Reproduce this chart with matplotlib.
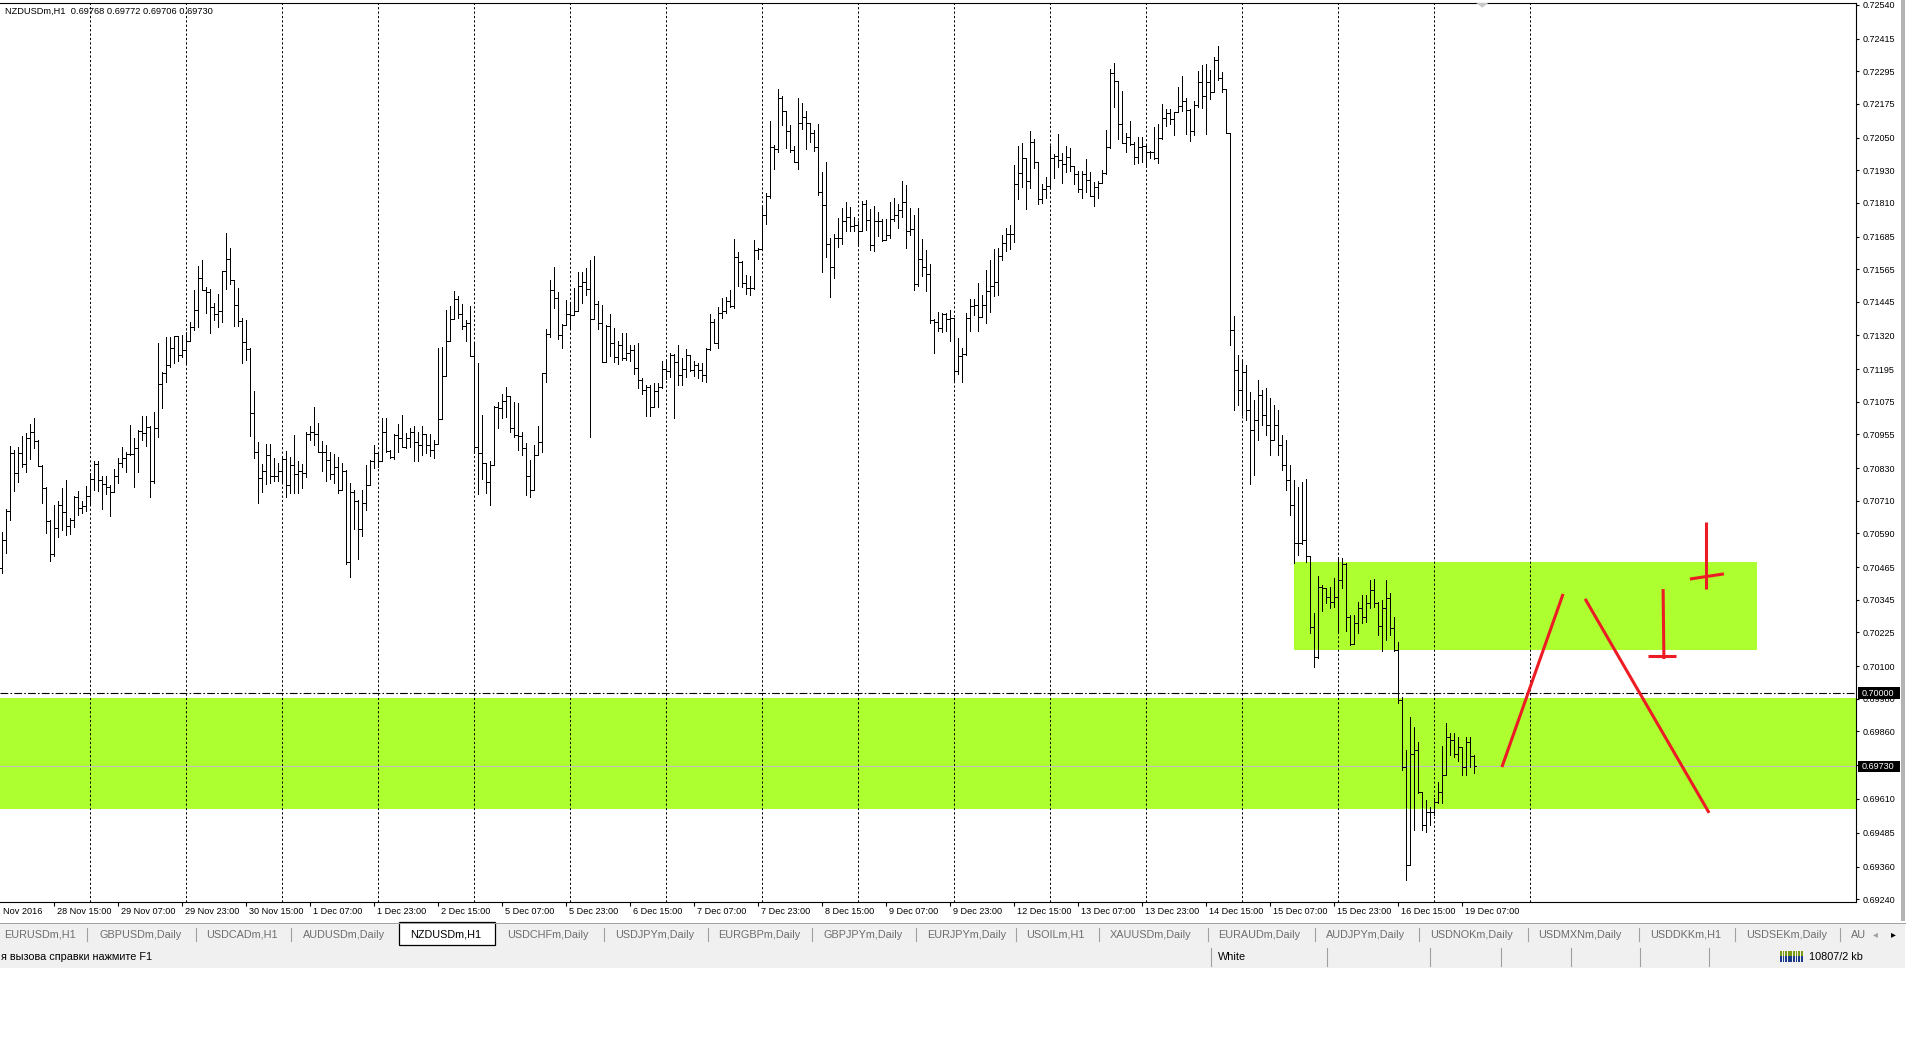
import matplotlib
matplotlib.use("Agg")
import matplotlib.pyplot as plt
import matplotlib.transforms as mtransforms
from matplotlib.patches import Rectangle, Polygon
import numpy as np

plt.rcParams['font.family'] = ['Liberation Sans', 'DejaVu Sans']

# NZDUSDm, H1 - bar 0 = 28 Nov 2016 02:00, prices in points (1e-5)
highs = [
    70596, 70678, 70912, 70899, 70909, 70949, 70959, 70993, 71015, 70934,
    70842, 70762, 70639, 70694, 70709, 70758, 70786, 70645, 70727, 70747,
    70709, 70764, 70811, 70858, 70858, 70801, 70801, 70768, 70828, 70869,
    70909, 70891, 70989, 70942, 70971, 71022, 71022, 70987, 71037, 71293,
    71186, 71315, 71315, 71318, 71318, 71321, 71334, 71371, 71488, 71577,
    71598, 71500, 71490, 71438, 71473, 71559, 71697, 71641, 71525, 71494,
    71383, 71377, 71272, 71115, 70926, 70845, 70918, 70920, 70867, 70848,
    70873, 70894, 70871, 70953, 70855, 70846, 70962, 70987, 71057, 70996,
    70931, 70916, 70889, 70882, 70871, 70851, 70824, 70774, 70750, 70713,
    70750, 70842, 70861, 70914, 70891, 71017, 71014, 70898, 70955, 70992,
    71027, 70959, 70978, 70984, 70963, 70987, 70957, 70955, 70934, 71273,
    71277, 71414, 71430, 71484, 71464, 71435, 71377, 71427, 71291, 71220,
    71027, 70851, 70855, 71060, 71076, 71103, 71131, 71097, 71076, 71070,
    70965, 70922, 70861, 70916, 70986, 71183, 71343, 71525, 71573, 71482,
    71361, 71451, 71445, 71494, 71553, 71556, 71568, 71599, 71613, 71447,
    71433, 71359, 71399, 71346, 71300, 71328, 71328, 71285, 71285, 71291,
    71162, 71137, 71137, 71143, 71146, 71226, 71226, 71254, 71250, 71285,
    71238, 71269, 71246, 71226, 71217, 71217, 71275, 71398, 71380, 71426,
    71457, 71463, 71488, 71676, 71627, 71593, 71543, 71540, 71673, 71642,
    71798, 71845, 72112, 72024, 72230, 72204, 72149, 72097, 72020, 72196,
    72177, 72149, 72104, 72079, 72101, 71925, 71960, 71679, 71694, 71753,
    71790, 71814, 71793, 71759, 71741, 71818, 71821, 71787, 71798, 71777,
    71750, 71750, 71811, 71829, 71806, 71891, 71876, 71792, 71765, 71792,
    71675, 71634, 71584, 71380, 71406, 71402, 71402, 71415, 71310, 71310,
    71275, 71402, 71455, 71455, 71513, 71470, 71562, 71599, 71640, 71642,
    71690, 71718, 71728, 71949, 72019, 72029, 71974, 72075, 72045, 71961,
    71878, 71906, 72019, 71990, 72064, 71995, 72019, 72011, 71945, 71927,
    71927, 71971, 71924, 71888, 71890, 71931, 72078, 72303, 72324, 72259,
    72222, 72066, 72112, 72035, 72051, 72051, 72025, 72001, 72088, 72100,
    72173, 72156, 72156, 72144, 72238, 72278, 72195, 72156, 72185, 72296,
    72318, 72321, 72300, 72347, 72388, 72294, 72230, 72051, 71392, 71248,
    71230, 71211, 71112, 71082, 71156, 71119, 71126, 71090, 71064, 71045,
    70953, 70934, 70842, 70787, 70760, 70780, 70790, 70506, 70294, 70432,
    70399, 70387, 70393, 70424, 70497, 70497, 70479, 70288, 70288, 70337,
    70362, 70362, 70417, 70420, 70337, 70344, 70417, 70368, 70280, 70190,
    69984, 69790, 69913, 69876, 69821, 69636, 69605, 69581, 69611, 69673,
    69805, 69891, 69854, 69854, 69839, 69802, 69839, 69839, 69772,
]
lows = [
    70442, 70518, 70639, 70747, 70780, 70835, 70817, 70864, 70904, 70842,
    70703, 70592, 70488, 70506, 70577, 70602, 70583, 70586, 70614, 70658,
    70663, 70673, 70694, 70749, 70747, 70679, 70733, 70655, 70743, 70774,
    70835, 70815, 70879, 70762, 70817, 70934, 70912, 70725, 70774, 70946,
    71053, 71149, 71205, 71217, 71227, 71241, 71213, 71303, 71340, 71352,
    71488, 71404, 71330, 71377, 71350, 71371, 71490, 71509, 71355, 71355,
    71219, 71229, 70950, 70867, 70701, 70744, 70771, 70774, 70784, 70784,
    70774, 70725, 70740, 70740, 70740, 70758, 70799, 70934, 70914, 70891,
    70820, 70783, 70789, 70774, 70740, 70750, 70477, 70427, 70605, 70494,
    70581, 70674, 70768, 70832, 70836, 70857, 70891, 70867, 70864, 70891,
    70910, 70904, 70910, 70855, 70857, 70877, 70888, 70875, 70869, 70920,
    71011, 71172, 71300, 71380, 71386, 71343, 71301, 71246, 70885, 70734,
    70789, 70740, 70695, 70842, 70980, 71017, 71020, 70963, 70947, 70897,
    70880, 70731, 70724, 70787, 70879, 70890, 71150, 71316, 71423, 71307,
    71275, 71359, 71346, 71396, 71410, 71439, 71470, 70944, 71383, 71343,
    71221, 71221, 71246, 71221, 71215, 71230, 71230, 71226, 71177, 71125,
    71103, 71024, 71024, 71057, 71057, 71125, 71159, 71168, 71014, 71137,
    71137, 71168, 71189, 71172, 71162, 71152, 71150, 71266, 71291, 71273,
    71383, 71402, 71426, 71420, 71504, 71500, 71472, 71470, 71492, 71602,
    71731, 71731, 71827, 71934, 71997, 72095, 72011, 71997, 71960, 71934,
    72081, 72009, 72033, 71999, 71839, 71556, 71611, 71461, 71531, 71645,
    71657, 71704, 71704, 71704, 71657, 71706, 71710, 71636, 71630, 71688,
    71670, 71675, 71679, 71741, 71716, 71759, 71642, 71689, 71486, 71504,
    71538, 71485, 71365, 71255, 71335, 71332, 71335, 71298, 71147, 71177,
    71150, 71248, 71337, 71396, 71338, 71387, 71365, 71408, 71466, 71470,
    71600, 71630, 71640, 71666, 71824, 71869, 71785, 71865, 71937, 71804,
    71808, 71826, 71869, 71902, 71943, 71881, 71924, 71927, 71878, 71851,
    71829, 71851, 71835, 71799, 71826, 71881, 71915, 72013, 72164, 72045,
    72029, 71998, 72023, 71952, 71955, 71959, 71943, 71974, 71971, 71955,
    72044, 72094, 72099, 72060, 72144, 72148, 72064, 72039, 72060, 72164,
    72161, 72062, 72192, 72220, 72263, 72220, 72068, 71285, 71045, 71064,
    71027, 71008, 70772, 70805, 70934, 70990, 70953, 70879, 70934, 70879,
    70824, 70750, 70658, 70481, 70510, 70550, 70485, 70223, 70097, 70128,
    70303, 70331, 70313, 70319, 70227, 70387, 70230, 70177, 70184, 70220,
    70257, 70264, 70313, 70319, 70214, 70156, 70196, 70214, 70156, 69962,
    69716, 69310, 69365, 69494, 69630, 69494, 69488, 69513, 69550, 69593,
    69593, 69698, 69771, 69765, 69750, 69698, 69698, 69728, 69706,
]
closes = [
    70565, 70672, 70888, 70811, 70885, 70844, 70940, 70963, 70930, 70840,
    70758, 70635, 70513, 70608, 70694, 70667, 70616, 70639, 70722, 70685,
    70691, 70727, 70792, 70844, 70786, 70770, 70762, 70741, 70801, 70848,
    70866, 70881, 70882, 70903, 70968, 70959, 70983, 70781, 70977, 71141,
    71180, 71212, 71273, 71318, 71248, 71266, 71301, 71350, 71414, 71531,
    71488, 71479, 71424, 71399, 71411, 71559, 71601, 71525, 71431, 71373,
    71294, 71271, 71035, 70889, 70793, 70819, 70878, 70803, 70803, 70818,
    70863, 70767, 70842, 70808, 70818, 70813, 70957, 70965, 70957, 70890,
    70891, 70859, 70809, 70834, 70750, 70821, 70485, 70744, 70709, 70606,
    70701, 70767, 70857, 70888, 70858, 70963, 70894, 70873, 70953, 70943,
    70910, 70943, 70963, 70926, 70914, 70955, 70914, 70898, 70920, 71011,
    71172, 71300, 71380, 71454, 71398, 71355, 71365, 71246, 70910, 70888,
    70848, 70778, 70842, 71057, 71051, 71078, 71097, 70977, 70953, 70949,
    70905, 70800, 70750, 70880, 70928, 71180, 71324, 71488, 71460, 71322,
    71359, 71398, 71396, 71410, 71504, 71519, 71490, 71381, 71435, 71367,
    71223, 71355, 71291, 71242, 71285, 71236, 71254, 71267, 71199, 71156,
    71119, 71131, 71055, 71115, 71131, 71195, 71189, 71248, 71221, 71174,
    71195, 71248, 71193, 71211, 71193, 71174, 71269, 71371, 71291, 71402,
    71410, 71447, 71430, 71609, 71590, 71515, 71494, 71494, 71636, 71640,
    71765, 71833, 72017, 72009, 72196, 72149, 72075, 72005, 71962, 72104,
    72125, 72104, 72067, 72017, 71851, 71802, 71657, 71574, 71679, 71679,
    71741, 71759, 71725, 71728, 71706, 71805, 71747, 71654, 71744, 71743,
    71673, 71691, 71750, 71763, 71784, 71814, 71706, 71712, 71510, 71602,
    71574, 71547, 71378, 71371, 71347, 71399, 71381, 71384, 71189, 71245,
    71251, 71384, 71429, 71433, 71387, 71433, 71485, 71503, 71517, 71614,
    71660, 71693, 71693, 71878, 71921, 71974, 71890, 72033, 71959, 71824,
    71859, 71872, 71976, 71982, 71968, 71953, 71977, 71945, 71916, 71859,
    71916, 71892, 71835, 71869, 71881, 71918, 72017, 72287, 72259, 72099,
    72029, 72054, 72027, 71980, 72014, 72019, 71996, 71996, 71976, 72048,
    72121, 72142, 72118, 72144, 72167, 72185, 72152, 72075, 72171, 72254,
    72204, 72254, 72220, 72337, 72269, 72228, 72068, 71340, 71193, 71119,
    71185, 71045, 70971, 71008, 71101, 71027, 70990, 70934, 70990, 70916,
    70842, 70787, 70695, 70553, 70553, 70565, 70506, 70243, 70132, 70393,
    70387, 70356, 70337, 70353, 70417, 70475, 70280, 70180, 70260, 70313,
    70280, 70331, 70380, 70331, 70248, 70313, 70350, 70239, 70159, 69974,
    69728, 69365, 69777, 69790, 69636, 69513, 69562, 69562, 69599, 69636,
    69698, 69839, 69827, 69777, 69800, 69728, 69821, 69768, 69730,
]
first_open = 70460

header = "NZDUSDm,H1  0.69768 0.69772 0.69706 0.69730"
price_ticks = [0.72540, 0.72415, 0.72295, 0.72175, 0.72050, 0.71930, 0.71810,
               0.71685, 0.71565, 0.71445, 0.71320, 0.71195, 0.71075, 0.70955,
               0.70830, 0.70710, 0.70590, 0.70465, 0.70345, 0.70225, 0.70100,
               0.69980, 0.69860, 0.69735, 0.69610, 0.69485, 0.69360, 0.69240]
time_labels = ["28 Nov 15:00", "29 Nov 07:00", "29 Nov 23:00", "30 Nov 15:00",
               "1 Dec 07:00", "1 Dec 23:00", "2 Dec 15:00", "5 Dec 07:00",
               "5 Dec 23:00", "6 Dec 15:00", "7 Dec 07:00", "7 Dec 23:00",
               "8 Dec 15:00", "9 Dec 07:00", "9 Dec 23:00", "12 Dec 15:00",
               "13 Dec 07:00", "13 Dec 23:00", "14 Dec 15:00", "15 Dec 07:00",
               "15 Dec 23:00", "16 Dec 15:00", "19 Dec 07:00"]
time_label_bars = list(range(13, 369, 16))
grid_bars = list(range(22, 383, 24))

level = 0.70000
bid = 0.69730
zone_low = (0.69572, 0.69982)
zone_high = (322.9, 438.7, 0.70159, 0.70484)
# hand drawn lines: (bar, price) -> (bar, price)
red_segments = [
    ((374.9, 0.69727), (390.2, 0.70366)),
    ((395.7, 0.70348), (426.7, 0.69558)),
    ((415.2, 0.70384), (415.4, 0.70126)),
    ((411.4, 0.70137), (418.4, 0.70137)),
    ((425.9, 0.70632), (425.9, 0.70384)),
    ((421.9, 0.70421), (430.4, 0.70440)),
]

tabs = ["EURUSDm,H1", "GBPUSDm,Daily", "USDCADm,H1", "AUDUSDm,Daily", "NZDUSDm,H1",
        "USDCHFm,Daily", "USDJPYm,Daily", "EURGBPm,Daily", "GBPJPYm,Daily",
        "EURJPYm,Daily", "USOILm,H1", "XAUUSDm,Daily", "EURAUDm,Daily",
        "AUDJPYm,Daily", "USDNOKm,Daily", "USDMXNm,Daily", "USDDKKm,H1",
        "USDSEKm,Daily", "AU"]
active_tab = "NZDUSDm,H1"
tab_x = [4, 99, 206, 303, 410, 507, 615, 718, 824, 927, 1026, 1110, 1218,
         1326, 1430, 1538, 1650, 1746, 1851]
tab_sep_x = [87, 196, 291, 604, 708, 812, 916, 1016, 1099, 1208, 1315, 1419,
             1528, 1639, 1735, 1840]
status_sep_x = [1211, 1327, 1430, 1501, 1571, 1640, 1709]

W, H = 1920, 1040
fig = plt.figure(figsize=(W / 100, H / 100), dpi=100)
fig.patch.set_facecolor('white')

# pixel overlay for the terminal window parts
ui = fig.add_axes([0, 0, 1, 1], zorder=0)
ui.set_xlim(0, W)
ui.set_ylim(H, 0)
ui.axis('off')

ui.add_patch(Rectangle((1901, 0), 4, 921, fc='#b4b4b4', ec='none'))
ui.add_patch(Rectangle((0, 923), 1905, 23, fc='#f0f0f0', ec='none'))
ui.add_patch(Rectangle((0, 946), 1905, 22, fc='#f0f0f0', ec='none'))
ui.plot([0, 1905], [923, 923], color='#a0a0a0', lw=0.7)
ui.add_patch(Rectangle((399, 922), 96, 23, fc='white', ec='black', lw=0.9))
for sx in tab_sep_x:
    ui.plot([sx, sx], [928, 941], color='#a0a0a0', lw=0.8)
for name, tx in zip(tabs, tab_x):
    ui.text(tx, 934.5, name, fontsize=7.8, va='center', ha='left',
            color='black' if name == active_tab else '#6e6e6e')
ui.text(1873, 934, '\u25c2', fontsize=7, va='center', color='#a0a0a0')
ui.text(1891, 934, '\u25b8', fontsize=7, va='center', color='black')

ui.text(1, 957, "я вызова справки нажмите F1", fontsize=7.8, va='center', color='black')
ui.text(1218, 957, "White", fontsize=7.8, va='center', color='black')
for sx in status_sep_x:
    ui.plot([sx, sx], [948, 966], color='#a0a0a0', lw=0.8)
for i in range(9):
    bx = 1780 + i * 2.6
    ui.add_patch(Rectangle((bx, 951), 1.8, 5, fc='#7a9a10', ec='none'))
    ui.add_patch(Rectangle((bx, 956), 1.8, 6, fc='#1c3a8c', ec='none'))
ui.text(1809, 957, "10807/2 kb", fontsize=7.8, va='center', color='black')

# chart
ax = fig.add_axes([0, 1 - 902 / H, 1856 / W, 899 / H], zorder=2)
ax.set_facecolor('white')
ax.set_xlim(-0.575, 463.425)
ax.set_ylim(0.69229, 0.72547)
for side in ['top', 'right', 'bottom']:
    ax.spines[side].set_color('black')
    ax.spines[side].set_linewidth(0.8)
ax.spines['left'].set_visible(False)

ax.axhspan(zone_low[0], zone_low[1], color='#adff2f', lw=0, zorder=1)
ax.add_patch(Rectangle((zone_high[0], zone_high[2]), zone_high[1] - zone_high[0],
                       zone_high[3] - zone_high[2], fc='#adff2f', ec='none', zorder=1))

for gb in grid_bars:
    ax.axvline(gb, color='black', lw=0.72, ls=(0, (2.2, 2.2)), zorder=2)

ax.axhline(bid, color='#c0c0c0', lw=0.8, zorder=3)
ax.axhline(level, color='black', lw=0.8, ls=(0, (7, 2, 1.4, 2)), zorder=3)

n = min(len(highs), len(lows), len(closes))
x = np.arange(n)
h = np.array(highs[:n]) / 1e5
l = np.array(lows[:n]) / 1e5
c = np.array(closes[:n]) / 1e5
o = np.concatenate([[first_open / 1e5], c[:-1]])
top = np.maximum(np.maximum(h, o), c)
bot = np.minimum(np.minimum(l, o), c)
ax.vlines(x, bot, top, color='black', lw=0.72, antialiased=False, zorder=4)
ax.hlines(o, x - 0.5, x, color='black', lw=0.72, antialiased=False, zorder=4)
ax.hlines(c, x, x + 0.5, color='black', lw=0.72, antialiased=False, zorder=4)

for (x0, y0), (x1, y1) in red_segments:
    ax.plot([x0, x1], [y0, y1], color='#ed1c24', lw=2.2, solid_capstyle='butt', zorder=5)

# price scale
ax.yaxis.tick_right()
ax.set_yticks(price_ticks)
ax.set_yticklabels([f"{v:.5f}" for v in price_ticks])
ax.tick_params(axis='y', direction='out', length=2.5, width=0.8, pad=2.5,
               labelsize=6.5, colors='black')

blend_y = mtransforms.blended_transform_factory(ax.transAxes, ax.transData)
for val in [level, bid]:
    ax.add_patch(Rectangle((1858 / 1856, val - 0.00021), 42 / 1856, 0.00042,
                           transform=blend_y, fc='black', ec='none', clip_on=False, zorder=10))
    ax.text(1862 / 1856, val, f"{val:.5f}", transform=blend_y, color='white',
            fontsize=6.5, va='center', ha='left', clip_on=False, zorder=11)

# time scale
ax.set_xticks(time_label_bars)
ax.set_xticklabels([])
ax.tick_params(axis='x', direction='out', length=3, width=0.8, colors='black')
blend_x = mtransforms.blended_transform_factory(ax.transData, ax.transAxes)
for b, lab in zip(time_label_bars, time_labels):
    ax.text(b + 0.6, -0.0105, lab, transform=blend_x, fontsize=6.6,
            ha='left', va='center', clip_on=False)
ax.text(3 / 1856, -0.0105, "Nov 2016", transform=ax.transAxes, fontsize=6.6,
        ha='left', va='center', clip_on=False)

ax.text(5 / 1856, 1 - 8 / 899, header, transform=ax.transAxes, fontsize=6.7,
        ha='left', va='center')
ax.add_patch(Polygon([[368.5, 0.72547], [371.5, 0.72547], [370, 0.72530]],
                     closed=True, fc='#c8c8c8', ec='none', zorder=6))

fig.savefig('out.png', dpi=100)
